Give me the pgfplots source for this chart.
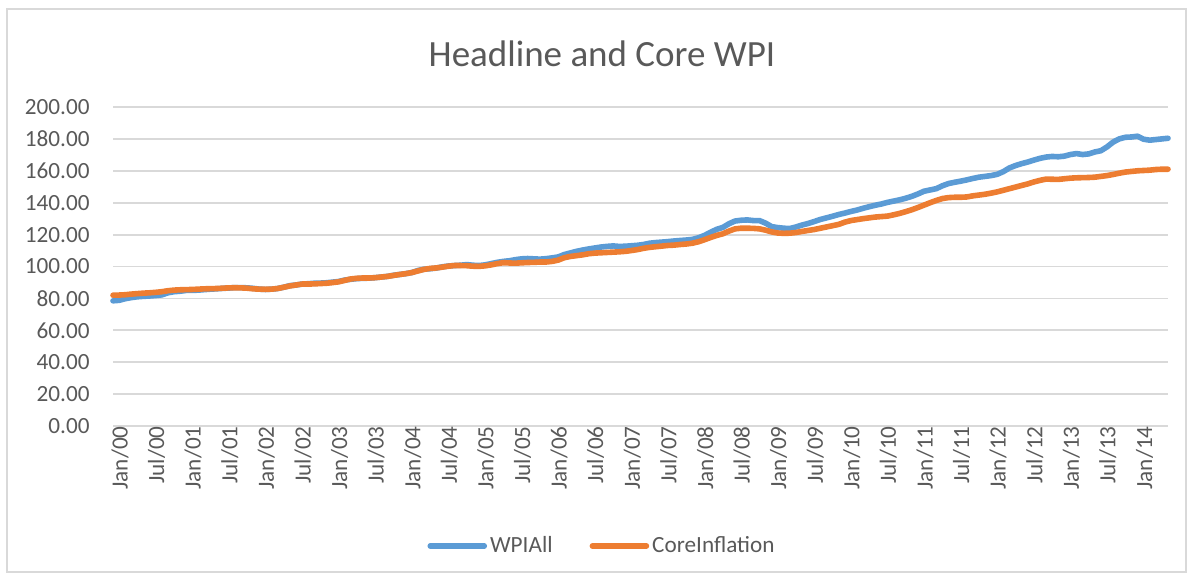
\documentclass[border=0pt]{standalone}
\usepackage{fontspec}
\setmainfont{Carlito}
\usepackage{pgfplots}
\pgfplotsset{compat=1.18}
\usepackage{pgfplotstable}
\definecolor{wpiblue}{HTML}{5B9BD5}
\definecolor{coreorange}{HTML}{ED7D31}
\definecolor{txtgray}{HTML}{595959}
\definecolor{gridgray}{HTML}{D9D9D9}

% month index (0 = Jan 2000), WPI all commodities, core
\pgfplotstableread{
m wpi core
0 78.5 82.0
1 78.8 82.1
2 79.8 82.3
3 80.5 82.7
4 81.0 83.0
5 81.3 83.3
6 81.5 83.5
7 81.8 83.8
8 82.2 84.2
9 83.5 84.8
10 84.2 85.2
11 84.5 85.4
12 85.0 85.5
13 85.0 85.6
14 85.2 85.8
15 85.5 86.0
16 85.8 86.1
17 86.0 86.2
18 86.3 86.4
19 86.5 86.6
20 86.8 86.7
21 86.8 86.6
22 86.6 86.4
23 86.3 86.0
24 85.8 85.8
25 85.6 85.7
26 85.8 85.8
27 86.2 86.2
28 87.0 87.0
29 88.0 87.8
30 88.4 88.4
31 89.0 89.0
32 89.2 89.0
33 89.5 89.1
34 89.6 89.3
35 89.8 89.5
36 90.2 89.9
37 90.6 90.4
38 91.5 91.3
39 92.0 92.2
40 92.4 92.6
41 92.6 92.8
42 92.7 92.8
43 93.0 93.0
44 93.4 93.4
45 93.8 93.8
46 94.5 94.4
47 95.0 95.0
48 95.5 95.5
49 96.2 96.2
50 97.5 97.2
51 98.3 98.2
52 98.6 98.8
53 99.0 99.1
54 99.8 99.6
55 100.3 100.2
56 100.6 100.6
57 100.8 100.6
58 101.2 100.5
59 100.8 100.2
60 100.6 100.1
61 101.0 100.4
62 101.8 101.0
63 102.6 101.8
64 103.2 102.4
65 103.6 102.2
66 104.3 102.1
67 104.8 102.3
68 105.0 102.5
69 104.8 102.6
70 104.6 102.8
71 104.9 102.8
72 105.4 103.2
73 106.0 104.0
74 107.5 105.5
75 108.5 106.3
76 109.5 106.8
77 110.3 107.3
78 111.0 108.0
79 111.6 108.4
80 112.2 108.6
81 112.6 108.8
82 112.9 109.0
83 112.6 109.2
84 112.7 109.5
85 113.0 110.0
86 113.3 110.6
87 113.8 111.4
88 114.6 112.0
89 115.0 112.4
90 115.3 112.8
91 115.6 113.2
92 116.0 113.4
93 116.3 113.8
94 116.6 114.1
95 117.0 114.6
96 118.0 115.5
97 119.5 116.8
98 121.5 118.2
99 123.3 119.5
100 124.5 120.5
101 126.8 122.2
102 128.5 123.6
103 129.0 124.0
104 129.2 124.0
105 128.8 123.9
106 128.8 123.6
107 127.2 122.8
108 125.0 121.7
109 124.4 121.0
110 124.0 120.8
111 123.8 120.9
112 124.8 121.3
113 126.0 122.0
114 127.0 122.6
115 128.2 123.2
116 129.5 124.0
117 130.5 124.8
118 131.5 125.6
119 132.6 126.4
120 133.5 127.8
121 134.5 128.8
122 135.4 129.4
123 136.5 130.0
124 137.5 130.5
125 138.4 131.0
126 139.2 131.3
127 140.2 131.6
128 141.0 132.4
129 141.8 133.3
130 142.8 134.4
131 144.0 135.6
132 145.5 137.0
133 147.2 138.5
134 148.0 140.0
135 148.8 141.4
136 150.6 142.6
137 152.0 143.2
138 152.8 143.4
139 153.5 143.4
140 154.3 143.6
141 155.2 144.3
142 156.0 144.8
143 156.5 145.3
144 157.0 146.0
145 157.8 146.8
146 159.5 147.8
147 161.8 148.8
148 163.3 149.8
149 164.5 150.8
150 165.5 151.8
151 166.7 153.0
152 167.8 154.0
153 168.6 154.8
154 169.0 154.7
155 168.8 154.6
156 169.2 155.0
157 170.2 155.4
158 170.8 155.6
159 170.2 155.7
160 170.6 155.8
161 171.8 156.0
162 172.6 156.5
163 175.0 157.0
164 178.0 157.7
165 180.0 158.5
166 181.0 159.2
167 181.2 159.6
168 181.7 160.0
169 179.8 160.2
170 179.2 160.4
171 179.6 160.8
172 180.0 161.0
173 180.4 161.0
}\wpidata

\begin{document}
\begin{tikzpicture}
\path[use as bounding box] (0pt,0pt) rectangle (596pt,289pt);
\draw[gridgray, line width=0.6pt] (3.5pt,3pt) rectangle (593pt,284.5pt);
\node[anchor=base, text=txtgray, font=\fontsize{18.5}{22}\selectfont] at (301pt,255.5pt) {Headline and Core WPI};
\begin{axis}[
    at={(56.5pt,76pt)}, anchor=south west,
    scale only axis,
    width=527.5pt, height=159.5pt,
    xmin=0, xmax=173,
    ymin=0, ymax=200,
    ytick={0,20,...,200},
    xtick={0,6,...,168},
    xticklabels={Jan/00,Jul/00,Jan/01,Jul/01,Jan/02,Jul/02,Jan/03,Jul/03,Jan/04,Jul/04,Jan/05,Jul/05,Jan/06,Jul/06,Jan/07,Jul/07,Jan/08,Jul/08,Jan/09,Jul/09,Jan/10,Jul/10,Jan/11,Jul/11,Jan/12,Jul/12,Jan/13,Jul/13,Jan/14},
    scaled y ticks=false,
    yticklabel style={/pgf/number format/fixed, /pgf/number format/fixed zerofill,
        /pgf/number format/precision=2, /pgf/number format/assume math mode=true,
        anchor=east, inner sep=0pt, xshift=-11.5pt},
    ymajorgrids,
    grid style={gridgray, line width=0.9pt},
    axis line style={draw=none},
    major tick length=0pt,
    tick label style={text=txtgray, font=\fontsize{11.6}{13}\selectfont},
    xticklabel style={rotate=90, anchor=east, inner sep=0pt, yshift=-3.5pt},
    clip=false,
    legend columns=2,
    legend style={at={(0.464,-0.376)}, anchor=center, draw=none, fill=none,
        font=\fontsize{11.6}{13}\selectfont, text=txtgray,
        /tikz/every even column/.append style={column sep=17pt},
        nodes={inner sep=1.5pt}},
    legend image code/.code={\draw[#1, line cap=round] (0pt,0pt) -- (27pt,0pt);},
]
\addplot[wpiblue, line width=2.8pt, line join=round, line cap=round] table[x=m, y=wpi] {\wpidata};
\addlegendentry{WPIAll}
\addplot[coreorange, line width=2.8pt, line join=round, line cap=round] table[x=m, y=core] {\wpidata};
\addlegendentry{CoreInflation}
\end{axis}
\end{tikzpicture}
\end{document}
